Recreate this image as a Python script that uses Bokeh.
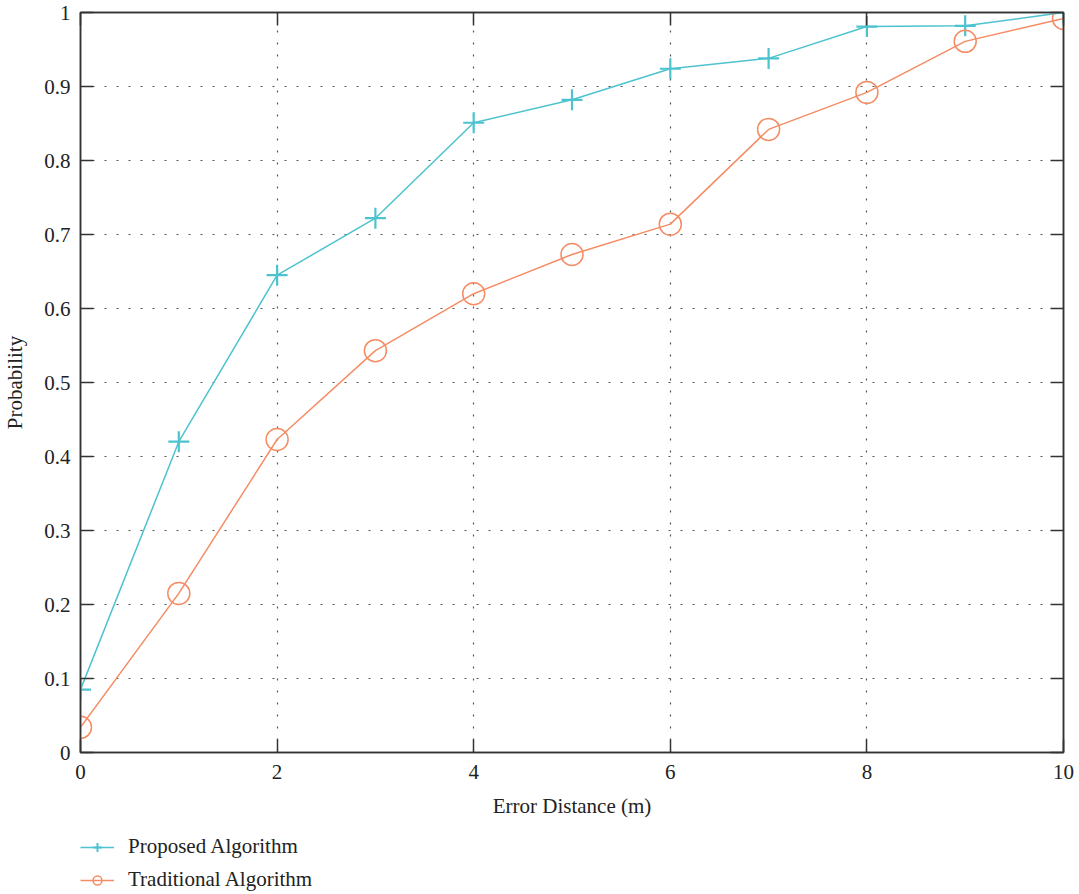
from bokeh.plotting import figure
from bokeh.layouts import column
from bokeh.models import LinearAxis, Legend, LegendItem, FixedTicker, Range1d
from bokeh.embed import file_html
from bokeh.resources import INLINE

x_vals = [0, 1, 2, 3, 4, 5, 6, 7, 8, 9, 10]
proposed = [0.085, 0.420, 0.645, 0.722, 0.851, 0.882, 0.924, 0.938, 0.981, 0.982, 1.000]
traditional = [0.034, 0.215, 0.423, 0.543, 0.620, 0.673, 0.714, 0.842, 0.892, 0.961, 0.992]
x_ticks = [0, 2, 4, 6, 8, 10]
y_ticks = [0, 0.1, 0.2, 0.3, 0.4, 0.5, 0.6, 0.7, 0.8, 0.9, 1]
y_labels = {0: "0", 0.1: "0.1", 0.2: "0.2", 0.3: "0.3", 0.4: "0.4", 0.5: "0.5",
            0.6: "0.6", 0.7: "0.7", 0.8: "0.8", 0.9: "0.9", 1: "1"}
series_names = ["Proposed Algorithm", "Traditional Algorithm"]

FONT = "Liberation Serif"
CYAN = "#4cc3cf"
ORANGE = "#f58c64"
AX = "#333333"

p = figure(width=1075, height=830, output_backend="svg", toolbar_location=None,
           x_range=Range1d(0, 10), y_range=Range1d(0, 1),
           min_border_left=80, min_border_right=12, min_border_top=12,
           min_border_bottom=78)

p.outline_line_color = AX
p.outline_line_width = 1.5

for ax in (p.xaxis[0], p.yaxis[0]):
    ax.major_tick_in = 13
    ax.major_tick_out = 0
    ax.minor_tick_in = 0
    ax.minor_tick_out = 0
    ax.axis_line_color = AX
    ax.axis_line_width = 1.5
    ax.major_tick_line_color = AX
    ax.major_tick_line_width = 1.5
    ax.major_label_text_font = FONT
    ax.major_label_text_font_size = "21px"
    ax.major_label_text_color = "#222222"
    ax.axis_label_text_font = FONT
    ax.axis_label_text_font_size = "21px"
    ax.axis_label_text_font_style = "normal"
    ax.axis_label_text_color = "#222222"

p.xaxis.ticker = FixedTicker(ticks=x_ticks)
p.yaxis.ticker = FixedTicker(ticks=y_ticks)
p.yaxis.major_label_overrides = y_labels
p.xaxis.axis_label = "Error Distance (m)"
p.yaxis.axis_label = "Probability"
p.xaxis.major_label_standoff = 12
p.yaxis.major_label_standoff = 10
p.xaxis.axis_label_standoff = 12
p.yaxis.axis_label_standoff = 14

top = LinearAxis(ticker=FixedTicker(ticks=x_ticks),
                 major_label_overrides={t: "" for t in x_ticks},
                 major_tick_in=13, major_tick_out=0, minor_tick_in=0, minor_tick_out=0,
                 axis_line_color=AX, axis_line_width=1.5, major_tick_line_color=AX,
                 major_tick_line_width=1.5, major_label_standoff=-30)
right = LinearAxis(ticker=FixedTicker(ticks=y_ticks),
                   major_label_overrides={t: "" for t in y_ticks},
                   major_tick_in=13, major_tick_out=0, minor_tick_in=0, minor_tick_out=0,
                   axis_line_color=AX, axis_line_width=1.5, major_tick_line_color=AX,
                   major_tick_line_width=1.5, major_label_standoff=-30)
p.add_layout(top, "above")
p.add_layout(right, "right")

p.xgrid.ticker = FixedTicker(ticks=[2, 4, 6, 8])
p.ygrid.ticker = FixedTicker(ticks=[0.1, 0.2, 0.3, 0.4, 0.5, 0.6, 0.7, 0.8, 0.9])
for g in (p.xgrid[0], p.ygrid[0]):
    g.grid_line_color = "#555555"
    g.grid_line_dash = "2 10"
    g.grid_line_width = 1.2

p.line(x_vals, proposed, line_color=CYAN, line_width=1.5)
p.scatter(x_vals, proposed, marker="cross", size=21, line_color=CYAN, line_width=2.2)
p.line(x_vals, traditional, line_color=ORANGE, line_width=1.5)
p.scatter(x_vals, traditional, marker="circle", size=22, fill_color=None,
          line_color=ORANGE, line_width=1.5)

# legend panel below the chart
lf = figure(width=1075, height=64, output_backend="svg", toolbar_location=None,
            x_range=Range1d(0, 1), y_range=Range1d(0, 1),
            x_axis_type=None, y_axis_type=None,
            min_border_left=0, min_border_right=0, min_border_top=0, min_border_bottom=0)
lf.outline_line_color = None
lf.xgrid.visible = False
lf.ygrid.visible = False
dl1 = lf.line([-5, -4], [-5, -4], line_color=CYAN, line_width=1.5)
ds1 = lf.scatter([-5], [-5], marker="cross", size=20, line_color=CYAN, line_width=2)
dl2 = lf.line([-5, -4], [-5, -4], line_color=ORANGE, line_width=1.5)
ds2 = lf.scatter([-5], [-5], marker="circle", size=22, fill_color=None,
                 line_color=ORANGE, line_width=1.5)

legend = Legend(items=[LegendItem(label=series_names[0], renderers=[dl1, ds1]),
                       LegendItem(label=series_names[1], renderers=[dl2, ds2])],
                location=(0, 2), orientation="vertical",
                label_text_font=FONT, label_text_font_size="21px",
                label_text_color="#222222", glyph_width=34, glyph_height=22,
                spacing=8, padding=0, margin=0, border_line_color=None,
                background_fill_alpha=0, label_standoff=14)
lf.add_layout(legend, "center")

layout = column(p, lf, spacing=0)
open("out.html", "w").write(file_html(layout, INLINE))
